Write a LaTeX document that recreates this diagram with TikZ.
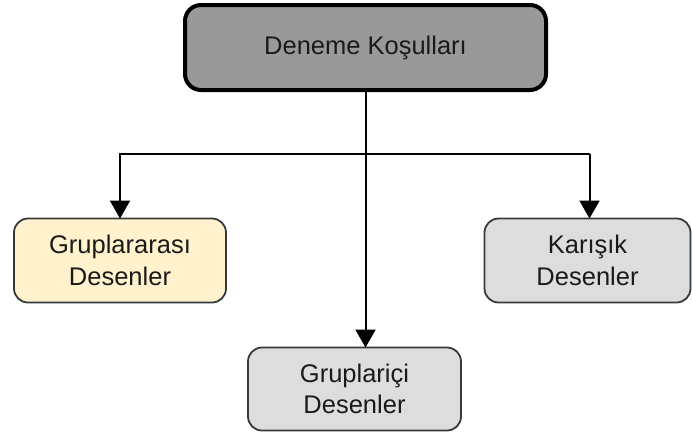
\documentclass[tikz,border=0pt]{standalone}
\usepackage{fontspec}
\setmainfont{Liberation Sans}
\usetikzlibrary{arrows.meta}
\definecolor{topfill}{HTML}{999999}
\definecolor{beigefill}{HTML}{FFF2CC}
\definecolor{greyfill}{HTML}{DDDDDD}
\definecolor{boxline}{HTML}{36393D}
\definecolor{txt}{HTML}{1A1A1A}
\tikzset{
  box/.style={rounded corners=14pt, inner sep=0pt, outer sep=0pt,
    align=center, text=txt, font=\fontsize{25.5}{31.5}\selectfont,
    draw=boxline, line width=1.8pt},
  headbox/.style={box, draw=black, line width=4pt, fill=topfill,
    rounded corners=16pt},
  link/.style={line width=2pt, draw=black},
  arrowlink/.style={link, -{Triangle[length=18pt,width=20pt]}}
}
\begin{document}
\begin{tikzpicture}[x=1pt,y=-1pt]
  \useasboundingbox (0,0) rectangle (692,439);
  % boxes
  \node[headbox, minimum width=361pt, minimum height=85pt] (top) at (365.5,47.5) {Deneme Koşulları};
  \node[box, fill=beigefill, minimum width=212pt, minimum height=84pt] (left) at (120,260.5) {Gruplararası\\Desenler};
  \node[box, fill=greyfill, minimum width=206pt, minimum height=84pt] (right) at (587.5,260.5) {Karışık\\Desenler};
  \node[box, fill=greyfill, minimum width=213pt, minimum height=83pt] (bot) at (354.5,389) {Gruplariçi\\Desenler};
  % connectors
  \coordinate (j) at (365.5,154);
  \coordinate (jr) at (589.5,154);
  \draw[arrowlink] (top.south) -- (top.south |- bot.north);
  \draw[arrowlink] (j) -| (left.north);
  \draw[link] (j) -- (jr);
  \draw[arrowlink] (jr) -- (jr |- right.north);
\end{tikzpicture}
\end{document}
